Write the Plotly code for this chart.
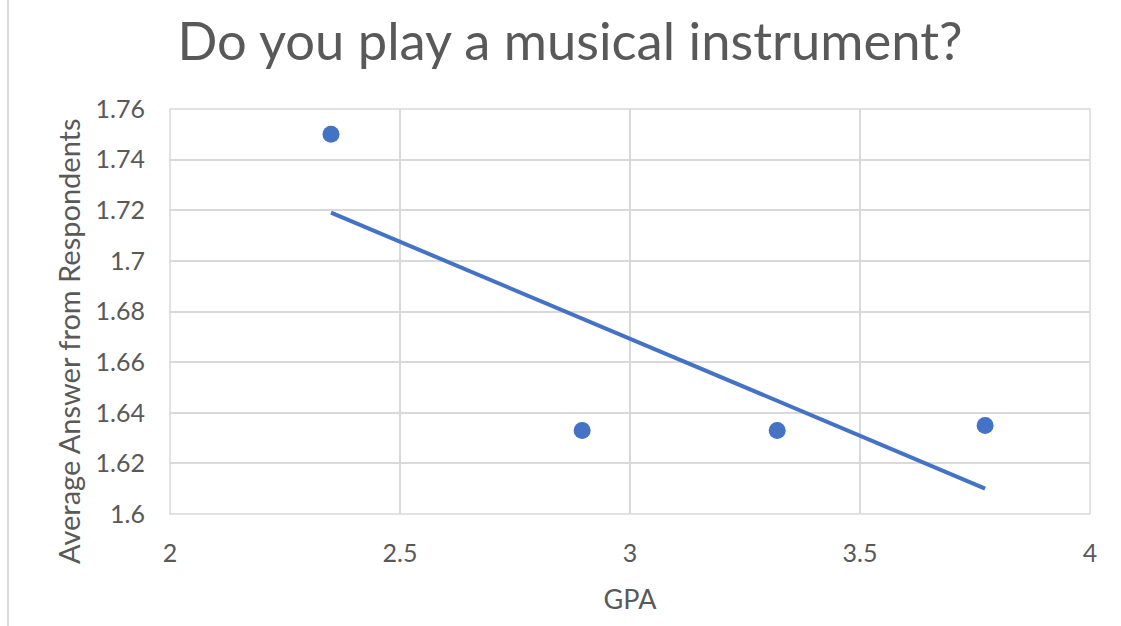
import numpy as np
import plotly.graph_objects as go

# Survey results: average answer by GPA group
gpa = [2.35, 2.896, 3.32, 3.772]
avg_answer = [1.75, 1.633, 1.633, 1.635]

x_ticks = [2, 2.5, 3, 3.5, 4]
x_tick_text = ["2", "2.5", "3", "3.5", "4"]
y_ticks = [1.6, 1.62, 1.64, 1.66, 1.68, 1.7, 1.72, 1.74, 1.76]
y_tick_text = ["1.6", "1.62", "1.64", "1.66", "1.68", "1.7", "1.72", "1.74", "1.76"]

BLUE = "#4472C4"
GRID = "#d9d9d9"
TEXT = "#595959"
FONT = "Lato"

# Linear trendline fitted to the points
slope, intercept = np.polyfit(gpa, avg_answer, 1)
trend_x = [min(gpa), max(gpa)]
trend_y = [slope * v + intercept for v in trend_x]

fig = go.Figure()
fig.add_trace(go.Scatter(
    x=trend_x, y=trend_y, mode="lines",
    line=dict(color=BLUE, width=4), hoverinfo="skip", showlegend=False,
))
fig.add_trace(go.Scatter(
    x=gpa, y=avg_answer, mode="markers",
    marker=dict(color=BLUE, size=17), showlegend=False,
))

L, R, T, B = 170, 31, 109, 112
W, H = 1121, 626
PW, PH = W - L - R, H - T - B

fig.update_layout(
    width=W, height=H,
    margin=dict(l=L, r=R, t=T, b=B),
    paper_bgcolor="white", plot_bgcolor="white",
    font=dict(family=FONT, color=TEXT, size=25),
    title=dict(text="Do you play a musical instrument?", x=570 / W, xanchor="center",
               y=1 - 42 / H, yanchor="middle",
               font=dict(family=FONT, size=52.5, color=TEXT)),
    xaxis=dict(range=[2, 4], tickvals=x_ticks, ticktext=x_tick_text,
               tickfont=dict(size=25),
               showgrid=True, gridcolor=GRID, gridwidth=1.5,
               zeroline=False, showline=False, ticks="",
               ticklabelstandoff=22,
               title=dict(text="GPA", font=dict(size=27, color=TEXT), standoff=24)),
    yaxis=dict(range=[1.6, 1.76], tickvals=y_ticks, ticktext=y_tick_text,
               tickfont=dict(size=25),
               showgrid=True, gridcolor=GRID, gridwidth=1.5,
               zeroline=False, showline=False, ticks="",
               ticklabelstandoff=24),
    annotations=[
        dict(text="Average Answer from Respondents", textangle=-90,
             xref="paper", yref="paper",
             x=(68 - L) / PW, y=(514 - 341) / PH,
             xanchor="center", yanchor="middle", showarrow=False,
             font=dict(size=29, color=TEXT)),
    ],
    shapes=[
        # plot-area frame
        dict(type="rect", xref="paper", yref="paper", x0=0, x1=1, y0=0, y1=1,
             line=dict(color=GRID, width=1.5), layer="below"),
        # chart border on the left
        dict(type="line", xref="paper", yref="paper",
             x0=(8 - L) / PW, x1=(8 - L) / PW,
             y0=-B / PH, y1=1 + T / PH,
             line=dict(color=GRID, width=2)),
    ],
)

fig.write_html("out.html")
